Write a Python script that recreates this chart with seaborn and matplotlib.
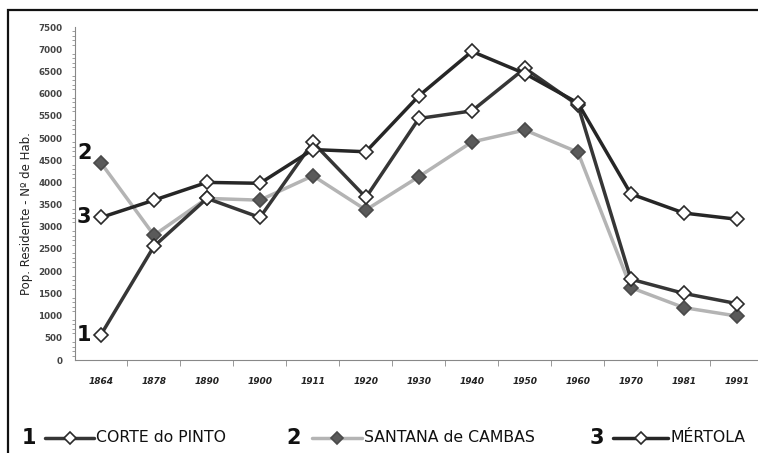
import matplotlib
matplotlib.use("Agg")
import matplotlib.pyplot as plt
import seaborn as sns
import pandas as pd
from matplotlib.lines import Line2D
from matplotlib.patches import Rectangle
from matplotlib.ticker import MultipleLocator

years = ["1864", "1878", "1890", "1900", "1911", "1920", "1930", "1940", "1950", "1960", "1970", "1981", "1991"]
corte = [570, 2560, 3640, 3210, 4900, 3660, 5440, 5610, 6570, 5740, 1820, 1500, 1270]
santana = [4440, 2810, 3640, 3600, 4150, 3380, 4130, 4910, 5180, 4680, 1630, 1180, 990]
mertola = [3210, 3600, 4000, 3980, 4740, 4690, 5950, 6950, 6450, 5790, 3740, 3310, 3170]
series_names = ["CORTE do PINTO", "SANTANA de CAMBAS", "MÉRTOLA"]
series_nums = ["1", "2", "3"]
y_label = "Pop. Residente - Nº de Hab."

sns.set_theme(style="white")
plt.rcParams["font.family"] = ["DejaVu Sans"]

fig = plt.figure(figsize=(7.58, 4.53), dpi=100)
W, H = 758, 453
AX_L, AX_B, AX_W, AX_H = 75, 360, 682, 333
ax = fig.add_axes([AX_L / W, (H - AX_B) / H, AX_W / W, AX_H / H])

df = pd.DataFrame({"year": years * 3,
                   "pop": corte + santana + mertola,
                   "serie": [series_names[0]] * 13 + [series_names[1]] * 13 + [series_names[2]] * 13})
df["x"] = list(range(13)) * 3

styles = {
    series_names[0]: dict(line="#363636", mfc="white", mec="#2a2a2a"),
    series_names[1]: dict(line="#b4b4b4", mfc="#5a5a5a", mec="#4a4a4a"),
    series_names[2]: dict(line="#262626", mfc="white", mec="#2a2a2a"),
}
order = [series_names[1], series_names[0], series_names[2]]
for name in order:
    st = styles[name]
    sub = df[df["serie"] == name]
    sns.lineplot(data=sub, x="x", y="pop", ax=ax, color=st["line"], lw=2.5,
                 marker="D", markersize=7, markerfacecolor=st["mfc"],
                 markeredgecolor=st["mec"], markeredgewidth=1.2, legend=False)

ax.set_xlim(-0.49, 12.38)
ax.set_ylim(0, 7500)
ax.set_xticks(range(13))
ax.set_xticklabels(years, fontsize=6.5, fontweight="bold", fontstyle="italic", color="#222222")
ax.xaxis.set_minor_locator(MultipleLocator(0.5))
ax.yaxis.set_major_locator(MultipleLocator(500))
ax.yaxis.set_minor_locator(MultipleLocator(100))
ax.tick_params(axis="y", which="major", labelsize=6.3, length=4, width=0.8, colors="#444444", pad=5)
ax.tick_params(axis="y", which="minor", length=2, width=0.5, colors="#777777", left=True)
ax.tick_params(axis="x", which="major", length=0, pad=12)
ax.tick_params(axis="x", which="minor", length=4, width=0.6, colors="#888888", bottom=True)
for lab in ax.get_yticklabels():
    lab.set_fontweight("bold")
ax.set_xlabel("")
ax.set_ylabel(y_label, fontsize=8.5, color="#222222")
ax.yaxis.set_label_coords((27 - AX_L) / AX_W, (AX_B - 214) / AX_H)
ax.yaxis.label.set_va("center")
for s in ["top", "right"]:
    ax.spines[s].set_visible(False)
ax.spines["left"].set_color("#888888")
ax.spines["bottom"].set_color("#888888")
ax.spines["left"].set_linewidth(0.8)
ax.spines["bottom"].set_linewidth(0.8)
ax.grid(False)

# big numbers next to first points
first_vals = [corte[0], santana[0], mertola[0]]
for num, v in zip(series_nums, first_vals):
    ax.text(-0.18, v, num, fontsize=15, fontweight="bold", color="#111111",
            ha="right", va="center" if num != "2" else "bottom")

# outer frame
fig.add_artist(Rectangle((8 / W, -5 / H), 760 / W, (H - 10 + 5) / H, transform=fig.transFigure,
                         fill=False, edgecolor="#111111", lw=1.6, clip_on=False))

# legend
leg_y = (H - 438) / H
leg_x = [(22, 45, 96, 49), (286, 312, 364, 50), (590, 613, 670, 55)]
for (nx, lx, tx, ln), name, num in zip(leg_x, series_names, series_nums):
    st = styles[name]
    fig.text(nx / W, leg_y, num, fontsize=15, fontweight="bold", color="#111111",
             ha="left", va="center")
    fig.add_artist(Line2D([lx / W, (lx + ln) / W], [leg_y, leg_y], transform=fig.transFigure,
                          color=st["line"], lw=2.5))
    fig.add_artist(Line2D([(lx + ln / 2) / W], [leg_y], transform=fig.transFigure,
                          marker="D", markersize=6, markerfacecolor=st["mfc"],
                          markeredgecolor=st["mec"], markeredgewidth=1.2, lw=0))
    fig.text(tx / W, leg_y, name, fontsize=11.3, color="#111111", ha="left", va="center")

fig.savefig("out.png", dpi=100)
